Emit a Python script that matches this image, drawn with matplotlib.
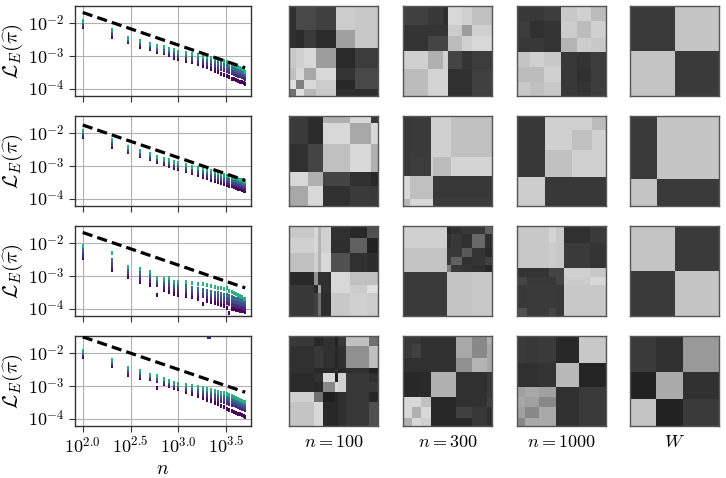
import numpy as np
import matplotlib
matplotlib.use("Agg")
import matplotlib.pyplot as plt

plt.rcParams["mathtext.fontset"] = "cm"
plt.rcParams["font.family"] = "serif"

# sample sizes of the scatter columns
n_values = [100, 200, 300, 400, 500, 600, 700, 800, 900, 1000,
            1200, 1400, 1600, 1800, 2000, 2200, 2400, 2600, 2800, 3000,
            3200, 3400, 3600, 3800, 4000, 4200, 4400, 4600, 4800, 5000]

# log10 of the loss, five levels per n (low -> high), one table per row
loss_row1 = [
    [-2.12, -2.07, -2.02, -1.97, -1.92], [-2.41, -2.36, -2.31, -2.25, -2.20],
    [-2.56, -2.53, -2.50, -2.47, -2.44], [-2.72, -2.67, -2.63, -2.58, -2.53],
    [-2.80, -2.76, -2.71, -2.66, -2.62], [-2.87, -2.83, -2.79, -2.75, -2.70],
    [-2.92, -2.88, -2.84, -2.79, -2.74], [-2.97, -2.93, -2.89, -2.84, -2.80],
    [-3.05, -3.00, -2.94, -2.88, -2.82], [-3.10, -3.04, -2.99, -2.93, -2.87],
    [-3.15, -3.09, -3.04, -2.98, -2.90], [-3.20, -3.14, -3.09, -3.03, -2.95],
    [-3.25, -3.19, -3.13, -3.07, -2.98], [-3.30, -3.23, -3.17, -3.10, -3.00],
    [-3.35, -3.27, -3.21, -3.14, -3.03], [-3.40, -3.31, -3.24, -3.17, -3.06],
    [-3.45, -3.35, -3.27, -3.20, -3.08], [-3.50, -3.38, -3.30, -3.22, -3.10],
    [-3.55, -3.41, -3.33, -3.25, -3.13], [-3.60, -3.44, -3.36, -3.28, -3.16],
    [-3.63, -3.47, -3.39, -3.31, -3.19], [-3.66, -3.50, -3.42, -3.34, -3.21],
    [-3.70, -3.53, -3.45, -3.37, -3.25], [-3.72, -3.56, -3.48, -3.40, -3.28],
    [-3.75, -3.58, -3.50, -3.42, -3.30], [-3.77, -3.61, -3.53, -3.45, -3.33],
    [-3.79, -3.63, -3.55, -3.47, -3.36], [-3.81, -3.65, -3.57, -3.50, -3.40],
    [-3.83, -3.67, -3.60, -3.52, -3.45], [-3.85, -3.70, -3.62, -3.55, -3.49],
]

loss_row2 = [
    [-2.12, -2.07, -2.02, -1.97, -1.92], [-2.42, -2.37, -2.32, -2.27, -2.22],
    [-2.58, -2.54, -2.50, -2.46, -2.42], [-2.70, -2.66, -2.62, -2.58, -2.54],
    [-2.80, -2.76, -2.72, -2.68, -2.64], [-2.88, -2.84, -2.80, -2.76, -2.72],
    [-2.94, -2.90, -2.86, -2.82, -2.78], [-3.00, -2.96, -2.92, -2.87, -2.83],
    [-3.05, -3.01, -2.97, -2.92, -2.88], [-3.10, -3.06, -3.01, -2.96, -2.92],
    [-3.17, -3.12, -3.07, -3.02, -2.97], [-3.23, -3.18, -3.13, -3.07, -3.02],
    [-3.29, -3.23, -3.18, -3.12, -3.06], [-3.34, -3.28, -3.22, -3.16, -3.10],
    [-3.38, -3.32, -3.26, -3.20, -3.13], [-3.42, -3.36, -3.30, -3.23, -3.16],
    [-3.46, -3.39, -3.33, -3.26, -3.19], [-3.49, -3.42, -3.36, -3.29, -3.22],
    [-3.52, -3.45, -3.39, -3.32, -3.25], [-3.55, -3.48, -3.42, -3.35, -3.27],
    [-3.58, -3.51, -3.44, -3.37, -3.30], [-3.61, -3.54, -3.47, -3.40, -3.32],
    [-3.63, -3.56, -3.49, -3.42, -3.34], [-3.66, -3.58, -3.51, -3.44, -3.36],
    [-3.68, -3.60, -3.53, -3.46, -3.38], [-3.70, -3.62, -3.55, -3.48, -3.40],
    [-3.72, -3.64, -3.57, -3.50, -3.42], [-3.74, -3.66, -3.59, -3.52, -3.44],
    [-3.76, -3.68, -3.61, -3.54, -3.46], [-3.78, -3.70, -3.63, -3.56, -3.48],
]

loss_row3 = [
    [-2.46, -2.38, -2.28, -2.18, -2.08], [-2.82, -2.72, -2.62, -2.50, -2.31],
    [-3.03, -2.95, -2.88, -2.80, -2.72], [-3.18, -3.08, -2.98, -2.90, -2.80],
    [-3.28, -3.17, -3.07, -2.97, -2.87], [-3.59, -3.28, -3.20, -3.12, -3.05],
    [-3.44, -3.34, -3.25, -3.16, -3.08], [-3.49, -3.38, -3.28, -3.17, -3.05],
    [-3.54, -3.44, -3.35, -3.26, -3.18], [-3.59, -3.48, -3.38, -3.28, -3.18],
    [-3.62, -3.52, -3.42, -3.32, -3.20], [-3.66, -3.56, -3.46, -3.36, -3.22],
    [-3.70, -3.60, -3.50, -3.39, -3.24], [-3.85, -3.63, -3.53, -3.42, -3.24],
    [-3.76, -3.66, -3.56, -3.45, -3.28], [-3.80, -3.69, -3.59, -3.48, -3.30],
    [-3.84, -3.72, -3.62, -3.51, -3.33], [-3.86, -3.75, -3.64, -3.53, -3.36],
    [-3.90, -3.78, -3.67, -3.56, -3.38], [-3.93, -3.80, -3.70, -3.58, -3.40],
    [-3.97, -3.83, -3.72, -3.60, -3.38], [-4.13, -3.85, -3.74, -3.62, -3.45],
    [-4.00, -3.88, -3.77, -3.65, -3.48], [-4.02, -3.90, -3.79, -3.68, -3.52],
    [-4.04, -3.92, -3.81, -3.70, -3.55], [-4.05, -3.94, -3.83, -3.72, -3.58],
    [-4.07, -3.96, -3.85, -3.74, -3.62], [-4.08, -3.98, -3.87, -3.76, -3.66],
    [-4.09, -3.99, -3.89, -3.78, -3.70], [-4.10, -4.00, -3.90, -3.80, -3.72],
]

loss_row4 = [
    [-2.10, -2.06, -2.02, -1.97, -1.93], [-2.39, -2.35, -2.31, -2.26, -2.22],
    [-2.65, -2.60, -2.55, -2.49, -2.44], [-2.75, -2.70, -2.65, -2.59, -2.54],
    [-2.80, -2.76, -2.72, -2.68, -2.65], [-3.05, -2.85, -2.80, -2.75, -2.70],
    [-2.95, -2.90, -2.86, -2.82, -2.78], [-3.00, -2.96, -2.92, -2.88, -2.85],
    [-3.05, -3.01, -2.97, -2.93, -2.90], [-3.10, -3.06, -3.02, -2.98, -2.95],
    [-3.18, -3.12, -3.07, -3.02, -2.98], [-3.24, -3.17, -3.12, -3.06, -3.01],
    [-3.30, -3.22, -3.16, -3.10, -3.04], [-3.36, -3.27, -3.20, -3.13, -3.07],
    [-3.42, -3.31, -3.24, -3.17, -3.10], [-3.46, -3.35, -3.27, -3.20, -3.12],
    [-3.52, -3.39, -3.30, -3.23, -3.15], [-3.56, -3.42, -3.33, -3.26, -3.18],
    [-3.62, -3.45, -3.36, -3.29, -3.21], [-3.66, -3.48, -3.39, -3.31, -3.23],
    [-3.70, -3.51, -3.42, -3.34, -3.26], [-3.74, -3.54, -3.45, -3.37, -3.29],
    [-3.77, -3.57, -3.48, -3.40, -3.32], [-3.80, -3.60, -3.51, -3.43, -3.35],
    [-3.83, -3.63, -3.54, -3.46, -3.38], [-3.85, -3.65, -3.57, -3.49, -3.41],
    [-3.87, -3.68, -3.60, -3.52, -3.44], [-3.89, -3.70, -3.62, -3.55, -3.46],
    [-3.91, -3.72, -3.64, -3.57, -3.48], [-3.94, -3.75, -3.67, -3.60, -3.50],
]

# single outlier in the last row
outlier_n = [2100]
outlier_loss = [-1.50]

# dashed reference lines (endpoints)
ref_n = [100, 5000]
ref_loss = [[0.0215, 0.00043], [0.0180, 0.00036], [0.0215, 0.00043], [0.0320, 0.00064]]

level_colors = [0.0, 0.1, 0.2, 0.34, 0.62]

# heatmaps: x edges, y edges (top -> bottom), grey levels (rows top -> bottom)
hm = {}
hm[0, 0] = ([0, .08, .17, .30, .53, .74, 1], [0, .27, .47, .69, .82, .92, 1],
            [[0x30, 0x48, 0x48, 0x40, 0xcc, 0xc8],
             [0x30, 0x2a, 0x3a, 0x2c, 0xa0, 0xc8],
             [0xc8, 0xd0, 0xd8, 0x9c, 0x2a, 0x3c],
             [0xc0, 0xd8, 0xa8, 0xd8, 0x34, 0x48],
             [0xe0, 0x80, 0xd8, 0xcc, 0x28, 0x48],
             [0x70, 0xe0, 0xb8, 0xc8, 0x2e, 0x2e]])
hm[0, 1] = ([0, .285, .45, .505, .66, .78, 1], [0, .21, .33, .50, .70, 1],
            [[0x40, 0x38, 0x30, 0xd8, 0xd0, 0xc0],
             [0x34, 0x34, 0x34, 0xcc, 0x9c, 0xd0],
             [0x34, 0x44, 0x44, 0xbc, 0xd0, 0xd8],
             [0xd0, 0xb0, 0xd0, 0x44, 0x34, 0x3c],
             [0xbc, 0xd4, 0xd4, 0x30, 0x30, 0x40]])
hm[0, 2] = ([0, .147, .298, .498, .675, .826, 1], [0, .17, .35, .506, .674, .843, 1],
            [[0x38, 0x38, 0x3c, 0xc8, 0xd0, 0xbc],
             [0x3c, 0x30, 0x34, 0xcc, 0xbc, 0xd0],
             [0x38, 0x38, 0x34, 0xb4, 0xcc, 0xc8],
             [0xc4, 0xd0, 0xc8, 0x38, 0x34, 0x3c],
             [0xbc, 0xbc, 0xd0, 0x38, 0x30, 0x3c],
             [0xc8, 0xc0, 0xc8, 0x38, 0x34, 0x3c]])
hm[0, 3] = ([0, .5, 1], [0, .5, 1], [[0x3a, 0xc4], [0xc4, 0x3a]])

hm[1, 0] = ([0, .217, .38, .684, .924, 1], [0, .075, .313, .623, .774, 1],
            [[0x3a, 0x2c, 0xb0, 0xd8, 0x38],
             [0x3a, 0x2c, 0xd8, 0xa8, 0xd8],
             [0x30, 0x44, 0xc0, 0xd8, 0xb0],
             [0xd8, 0xb0, 0x44, 0x30, 0x28],
             [0xa8, 0xd8, 0x30, 0x3a, 0x38]])
hm[1, 1] = ([0, .076, .316, .342, .544, 1], [0, .453, .67, .925, 1],
            [[0x38, 0x3a, 0xd0, 0xd0, 0xc0],
             [0x38, 0x3c, 0xd0, 0xbc, 0xd4],
             [0xd8, 0xc0, 0xc0, 0x38, 0x38],
             [0xb8, 0xd8, 0xd8, 0x3a, 0x3a]])
hm[1, 2] = ([0, .32, .62, .845, 1], [0, .15, .377, .68, 1],
            [[0x38, 0xd0, 0xd0, 0xbc],
             [0x38, 0xd0, 0xc0, 0xd0],
             [0x38, 0xc0, 0xd0, 0xd0],
             [0xcc, 0x38, 0x38, 0x38]])
hm[1, 3] = ([0, .3, 1], [0, .7, 1], [[0x3a, 0xc4], [0xc4, 0x3a]])

hm[2, 0] = ([0, .285, .323, .354, .475, .684, .875, 1], [0, .13, .30, .51, .66, .74, 1],
            [[0xc8, 0xd8, 0xb4, 0xd0, 0x30, 0x28, 0x50],
             [0xd0, 0xd8, 0xb4, 0xd0, 0x2e, 0x60, 0x22],
             [0xc0, 0xd0, 0xb4, 0xd8, 0x50, 0x30, 0x2c],
             [0x28, 0x90, 0x30, 0x30, 0xd8, 0xc0, 0xc0],
             [0x38, 0x2a, 0xa0, 0x30, 0xd8, 0xcc, 0xe0],
             [0x38, 0x40, 0x70, 0x2c, 0xc8, 0xd0, 0xcc]])
hm[2, 1] = ([0, .498, .544, .658, .772, .924, 1], [0, .094, .245, .34, .434, .509, 1],
            [[0xd0, 0x28, 0x30, 0x38, 0x38, 0x60],
             [0xd0, 0x30, 0x38, 0x30, 0x68, 0x30],
             [0xc4, 0x38, 0x38, 0x58, 0x34, 0x2a],
             [0xc4, 0x38, 0x60, 0x30, 0x34, 0x40],
             [0xc4, 0x80, 0x38, 0x34, 0x30, 0x28],
             [0x3a, 0xc4, 0xc4, 0xc4, 0xc8, 0xc8]])
hm[2, 2] = ([0, .114, .354, .437, .532, .817, 1], [0, .189, .464, .566, .66, .906, 1],
            [[0xc8, 0xc8, 0xd4, 0xc8, 0x30, 0x3a],
             [0xc8, 0xc8, 0xcc, 0xc8, 0x3a, 0x34],
             [0x34, 0x34, 0x44, 0x44, 0xd0, 0xc8],
             [0x44, 0x38, 0x38, 0x44, 0xcc, 0xd8],
             [0x38, 0x3a, 0x3a, 0x38, 0xc8, 0xc8],
             [0x50, 0x3a, 0x44, 0x38, 0xc8, 0xc8]])
hm[2, 3] = ([0, .5, 1], [0, .5, 1], [[0xc4, 0x3a], [0x3a, 0xc4]])

hm[3, 0] = ([0, .285, .38, .513, .551, .646, .894, 1], [0, .113, .358, .415, .509, .623, .736, 1],
            [[0x38, 0x28, 0x30, 0x20, 0x38, 0xc0, 0x70],
             [0x30, 0x38, 0x30, 0x28, 0x30, 0x90, 0xc0],
             [0x30, 0x28, 0x2a, 0x30, 0x28, 0x30, 0x22],
             [0x2a, 0x30, 0xd8, 0x20, 0xd0, 0x38, 0x30],
             [0x2a, 0x28, 0x88, 0xd8, 0xd0, 0x38, 0x38],
             [0xd0, 0x70, 0x20, 0x28, 0x30, 0x38, 0x28],
             [0xc4, 0xd8, 0x28, 0x28, 0x30, 0x38, 0x50]])
hm[3, 1] = ([0, .106, .202, .316, .601, .772, .943, 1], [0, .094, .245, .396, .679, .792, .906, 1],
            [[0x38, 0x38, 0x30, 0x30, 0xa8, 0x88, 0xb0],
             [0x38, 0x40, 0x30, 0x30, 0xa8, 0x88, 0xa8],
             [0x30, 0x30, 0x30, 0x30, 0x90, 0xb4, 0xa8],
             [0x28, 0x28, 0x2a, 0xb0, 0x30, 0x30, 0x38],
             [0xd8, 0xd8, 0xc0, 0x28, 0x30, 0x30, 0x40],
             [0xd8, 0xb0, 0xd8, 0x28, 0x40, 0x38, 0x30],
             [0xb0, 0xd8, 0xd0, 0x28, 0x28, 0x38, 0x30]])
hm[3, 2] = ([0, .095, .247, .437, .70, 1], [0, .302, .566, .679, .792, .906, 1],
            [[0x3a, 0x38, 0x3a, 0x28, 0xc8],
             [0x30, 0x30, 0x34, 0xb8, 0x24],
             [0xa0, 0xa8, 0xa0, 0x30, 0x3a],
             [0xa8, 0xa0, 0x88, 0x30, 0x3a],
             [0xa0, 0x88, 0xa8, 0x30, 0x3a],
             [0x88, 0xa8, 0xa8, 0x30, 0x3a]])
hm[3, 3] = ([0, .297, .601, 1], [0, .396, .698, 1],
            [[0x3a, 0x30, 0x99],
             [0x22, 0xaa, 0x30],
             [0xc4, 0x22, 0x3a]])

col_titles = ["$n=100$", "$n=300$", "$n=1000$", "$W$"]
x_tick_pos = [100, 316.23, 1000, 3162.3]
x_tick_labels = ["$10^{2.0}$", "$10^{2.5}$", "$10^{3.0}$", "$10^{3.5}$"]

W, H = 726, 478
fig = plt.figure(figsize=(W / 100, H / 100), dpi=100)

def px_axes(x, y, w, h):
    return fig.add_axes([x / W, 1 - (y + h) / H, w / W, h / H])

tables = [loss_row1, loss_row2, loss_row3, loss_row4]
cmap = plt.get_cmap("viridis")
heat_x = [289, 403, 517, 630]

for r in range(4):
    top = 6 + 110 * r
    ax = px_axes(75, top, 176, 90)
    tab = np.array(tables[r])
    for k in range(tab.shape[1]):
        ax.scatter(n_values, 10 ** tab[:, k], s=10, marker="|", lw=1.4,
                   color=cmap(level_colors[k]), zorder=2)
    if r == 3:
        ax.scatter(outlier_n, 10 ** np.array(outlier_loss), s=5, marker="s", lw=0,
                   color=cmap(0.1), zorder=2)
    ax.plot(ref_n, ref_loss[r], color="black", ls=(0, (3.2, 1.6)), lw=2.3, zorder=3)
    ax.set_xscale("log")
    ax.set_yscale("log")
    ax.set_xlim(83, 5750)
    ax.set_ylim(5.9e-5, 3.4e-2)
    ax.set_xticks(x_tick_pos)
    ax.set_xticks([], minor=True)
    ax.set_yticks([1e-4, 1e-3, 1e-2])
    ax.set_yticks([], minor=True)
    ax.set_yticklabels(["$10^{-4}$", "$10^{-3}$", "$10^{-2}$"], fontsize=13)
    if r == 3:
        ax.set_xticklabels(x_tick_labels, fontsize=13)
        ax.set_xlabel("$n$", fontsize=14, labelpad=2)
    else:
        ax.set_xticklabels([])
    ax.grid(True, color="#b0b0b0", lw=0.8)
    ax.set_axisbelow(True)
    ax.tick_params(length=4, width=0.8, color="#333333")
    for s in ax.spines.values():
        s.set_color("#333333")
        s.set_linewidth(1.0)
    ax.set_ylabel(r"$\mathcal{L}_E(\widehat{\pi})$", fontsize=15, labelpad=2)

    for c in range(4):
        xe, ye, vals = hm[r, c]
        hax = px_axes(heat_x[c], top, 89, 90)
        hax.pcolormesh(xe, ye, np.array(vals), cmap="gray", vmin=0, vmax=255)
        hax.set_xlim(0, 1)
        hax.set_ylim(1, 0)
        hax.set_xticks([])
        hax.set_yticks([])
        for s in hax.spines.values():
            s.set_color("#555555")
            s.set_linewidth(1.0)
        if r == 3:
            hax.set_xlabel(col_titles[c], fontsize=13, labelpad=5)

fig.savefig("out.png", dpi=100)
